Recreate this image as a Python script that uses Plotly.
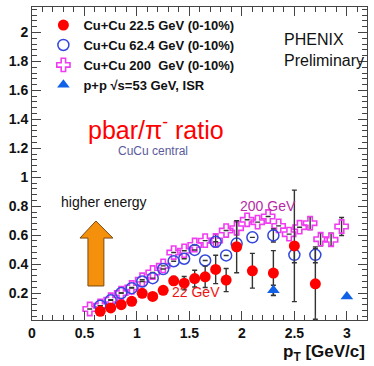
import plotly.graph_objects as go

# Cu+Cu points (22.5 and 62.4 GeV share bins)
pt_cu = [0.65, 0.75, 0.85, 0.95, 1.05, 1.15, 1.25, 1.35, 1.45, 1.55, 1.65, 1.75,
         1.85, 1.95, 2.1, 2.3, 2.5, 2.7]
ratio_22 = [0.074, 0.097, 0.12, 0.143, 0.198, 0.177, 0.219, 0.285, 0.268, 0.30,
            0.312, 0.363, 0.29, 0.52, 0.354, 0.338, 0.526, 0.264]
err_22 = [0, 0, 0, 0, 0, 0, 0, 0.03, 0.046, 0.058,
          0.074, 0.098, 0.08, 0.18, 0.12, 0.155, 0.385, 0.245]
ratio_62 = [0.112, 0.15, 0.2, 0.234, 0.28, 0.303, 0.366, 0.42, 0.437, 0.498,
            0.425, 0.554, 0.46, 0.542, 0.585, 0.598, 0.464, 0.464]
err_62 = [0, 0, 0, 0, 0, 0, 0, 0, 0, 0,
          0, 0, 0, 0, 0, 0.045, 0.055, 0.055]

pt_200 = [0.55, 0.65, 0.75, 0.85, 0.95, 1.05, 1.15, 1.25, 1.35, 1.45, 1.55, 1.65,
          1.75, 1.85, 1.95, 2.05, 2.15, 2.25, 2.35, 2.45, 2.55, 2.65, 2.75, 2.85, 2.95]
ratio_200 = [0.09, 0.112, 0.154, 0.2, 0.239, 0.292, 0.342, 0.388, 0.48, 0.492,
             0.532, 0.562, 0.563, 0.632, 0.648, 0.706, 0.69, 0.729, 0.664, 0.607,
             0.655, 0.683, 0.572, 0.568, 0.66]
err_200 = [0, 0, 0, 0, 0, 0, 0, 0, 0, 0,
           0, 0, 0.045, 0, 0.045, 0, 0, 0, 0, 0,
           0, 0.045, 0.045, 0.045, 0.062]

pt_pp = [2.3, 3.0]
ratio_pp = [0.219, 0.177]
err_pp = [0.035, 0]

names = ["Cu+Cu 22.5 GeV (0-10%)", "Cu+Cu 62.4 GeV (0-10%)",
         "Cu+Cu 200&nbsp; GeV (0-10%)", "p+p \u221As=53 GeV, ISR"]

FONT = "Liberation Sans, Arial, sans-serif"
ebar = dict(type="data", thickness=1.4, width=2.5, color="#333333")

fig = go.Figure()
fig.add_trace(go.Scatter(x=pt_200, y=ratio_200, mode="markers", name=names[2],
                         error_y=dict(array=err_200, **ebar),
                         marker=dict(symbol="cross-open", size=11, color="#f03cf0",
                                     line=dict(width=1.6, color="#f03cf0"))))
fig.add_trace(go.Scatter(x=pt_cu, y=ratio_62, mode="markers", name=names[1],
                         error_y=dict(array=err_62, **ebar),
                         marker=dict(symbol="circle-open", size=11, color="#3346dd",
                                     line=dict(width=1.5, color="#3346dd"))))
fig.add_trace(go.Scatter(x=pt_cu, y=ratio_22, mode="markers", name=names[0],
                         error_y=dict(array=err_22, **ebar),
                         marker=dict(symbol="circle", size=11, color="#ff0000")))
fig.add_trace(go.Scatter(x=pt_pp, y=ratio_pp, mode="markers", name=names[3],
                         error_y=dict(array=err_pp, **ebar),
                         marker=dict(symbol="triangle-up", size=11, color="#1060e8")))

# orange "higher energy" arrow
fig.add_shape(type="path", xref="x", yref="y",
              path="M 0.533 0.249 L 0.685 0.249 L 0.685 0.58 L 0.771 0.58 "
                   "L 0.609 0.698 L 0.457 0.58 L 0.533 0.58 Z",
              fillcolor="#f5900c", line=dict(color="#7a4a10", width=1))

ann = [
    dict(x=1.18, y=1.34, text="pbar/\u03c0<sup>-</sup> ratio",
         font=dict(size=25, color="#ff0000")),
    dict(x=1.15, y=1.18, text="CuCu central", font=dict(size=12, color="#5a5a9c")),
    dict(x=0.685, y=0.83, text="higher energy", font=dict(size=14, color="#111111")),
    dict(x=2.38, y=1.878, text="PHENIX<br>Preliminary", xanchor="left", align="left",
         font=dict(size=16, color="#111111")),
    dict(x=2.25, y=0.80, text="200 GeV", font=dict(size=14, color="#b52ba6")),
    dict(x=1.565, y=0.21, text="22 GeV", font=dict(size=14, color="#ee1111")),
]
for a in ann:
    a.setdefault("xanchor", "center")
    a["font"]["family"] = FONT
    fig.add_annotation(xref="x", yref="y", showarrow=False, yanchor="middle", **a)

fig.add_annotation(xref="paper", yref="paper", x=1.0, y=-0.105, xanchor="right",
                   yanchor="middle", showarrow=False, text="p<sub>T</sub> [GeV/c]",
                   font=dict(family=FONT, size=17, color="#111111", weight="bold"))

axis_common = dict(showline=True, linecolor="#444444", linewidth=1, mirror="ticks",
                   ticks="inside", ticklen=9, tickcolor="#444444", showgrid=False,
                   zeroline=False, automargin=False,
                   tickfont=dict(family=FONT, size=14, color="#111111", weight="bold"))
fig.update_xaxes(range=[0, 3.192], dtick=0.5, tick0=0,
                 minor=dict(dtick=0.1, tick0=0, ticks="inside", ticklen=5,
                            tickcolor="#444444"), **axis_common)
fig.update_yaxes(range=[0.014, 2.176], dtick=0.2, tick0=0,
                 minor=dict(dtick=0.04, tick0=0, ticks="inside", ticklen=5,
                            tickcolor="#444444"), **axis_common)

fig.update_layout(
    width=374, height=366,
    margin=dict(l=32, r=7, t=7, b=46),
    paper_bgcolor="white", plot_bgcolor="white",
    showlegend=True,
    legend=dict(x=0.034, y=0.99, xanchor="left", yanchor="top",
                traceorder="normal", bgcolor="rgba(0,0,0,0)",
                font=dict(family=FONT, size=13, color="#111111", weight="bold"),
                itemwidth=30),
)
# legend order as in the reference
fig.data[2].legendrank = 1
fig.data[1].legendrank = 2
fig.data[0].legendrank = 3
fig.data[3].legendrank = 4

fig.write_html("out.html", config={"displayModeBar": False},
               post_script="document.body.style.margin='0';")
